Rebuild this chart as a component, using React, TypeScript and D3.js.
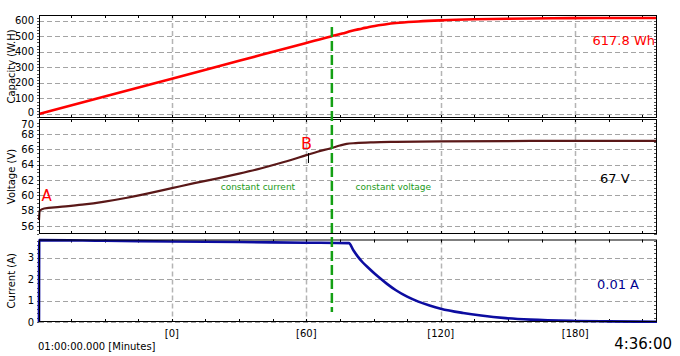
import React from "react";
import * as d3 from "d3";

// ---- data (minutes from start marker, values) ----
const capTime = [-59.3, -30, 0, 30, 60, 71, 76, 80, 85, 88, 95, 100, 110, 120, 135, 150, 170, 190, 216.5];
const capValue = [0, 112, 227, 342, 457, 499, 517, 534, 550, 560, 576, 585, 595, 602, 609, 613, 616, 617.3, 617.8];

const voltTime = [-59.3, -59.0, -57, -50, -40, -30, -20, -10, 0, 10, 20, 30, 40, 50, 60, 65, 71, 75, 78, 82, 90, 100, 120, 160, 216.5];
const voltValue = [56.8, 58.0, 58.3, 58.5, 58.8, 59.2, 59.7, 60.3, 60.95, 61.6, 62.2, 62.85, 63.55, 64.35, 65.25, 65.7, 66.15, 66.5, 66.72, 66.82, 66.92, 66.98, 67.05, 67.1, 67.1];

const curTime = [-59.3, -59.2, -30, 0, 30, 60, 79, 81, 83, 85, 88, 92, 96, 100, 105, 110, 115, 120, 130, 138, 149, 160, 180, 195, 216.5];
const curValue = [0, 3.82, 3.79, 3.76, 3.73, 3.7, 3.68, 3.35, 3.05, 2.8, 2.5, 2.12, 1.78, 1.48, 1.18, 0.95, 0.77, 0.62, 0.42, 0.3, 0.18, 0.11, 0.05, 0.03, 0.01];

const xTicks = [0, 60, 120, 180];
const xTickLabels = ["[0]", "[60]", "[120]", "[180]"];
const capTicks = [0, 100, 200, 300, 400, 500, 600];
const voltTicks = [56, 58, 60, 62, 64, 66, 68, 70];
const curTicks = [0, 1, 2, 3];

const switchTime = 71.4;
const markerTime = 60.6;

const FONT = "DejaVu Sans, Verdana, sans-serif";
const L = 39;
const R = 657;

export default function App() {
  const x = d3.scaleLinear().domain([-59.3, 216.5]).range([L, R]);

  const panels = [
    { key: "cap", top: 15, bottom: 118, y: d3.scaleLinear().domain([-25.7, 636.7]).range([118, 15]), ticks: capTicks, minor: 20, title: "Capacity (W.H)", t: capTime, v: capValue, color: "#ff0000", w: 2.6 },
    { key: "volt", top: 119, bottom: 234, y: d3.scaleLinear().domain([55, 70]).range([233.8, 118.7]), ticks: voltTicks, minor: 0.5, title: "Voltage (V)", t: voltTime, v: voltValue, color: "#5a1818", w: 2.2 },
    { key: "cur", top: 239.5, bottom: 322, y: d3.scaleLinear().domain([0, 3.85]).range([322, 239.5]), ticks: curTicks, minor: 0.2, title: "Current (A)", t: curTime, v: curValue, color: "#0c0ca0", w: 2.6 },
  ];

  const minorX = d3.range(-45, 216, 15);

  // label nudges where panels meet (top "0" and middle "70")
  const labelY = (key: string, t: number, yy: number) => {
    if (key === "cap" && t === 0) return yy - 2;
    if (key === "volt" && t === 70) return yy + 5.5;
    return yy;
  };

  return (
    <svg width={680} height={356} style={{ display: "block", position: "absolute", left: 0, top: 0, background: "#fff" }}>
      <rect x={0} y={0} width={680} height={356} fill="#ffffff" />
      {panels.map((p) => {
        const [d0, d1] = p.y.domain();
        const minorY = d3.range(Math.ceil(d0 / p.minor) * p.minor, d1, p.minor);
        const line = d3
          .line<number>()
          .x((_, i) => x(p.t[i]))
          .y((d) => p.y(d))
          .curve(d3.curveMonotoneX);
        const midY = (p.top + p.bottom) / 2;
        return (
          <g key={p.key}>
            {p.ticks.map((t) => (
              <line key={"hg" + t} x1={L} x2={R} y1={Math.round(p.y(t)) + 0.5} y2={Math.round(p.y(t)) + 0.5} stroke="#a4a4a4" strokeWidth={1.2} strokeDasharray="5,3" />
            ))}
            {xTicks.map((t) => (
              <line key={"vg" + t} x1={Math.round(x(t)) + 0.5} x2={Math.round(x(t)) + 0.5} y1={p.top} y2={p.bottom} stroke="#b4b4b4" strokeWidth={1.5} strokeDasharray="5,3" />
            ))}
            {minorX.map((t) => (
              <g key={"mx" + t}>
                <line x1={Math.round(x(t)) + 0.5} x2={Math.round(x(t)) + 0.5} y1={p.top} y2={p.top + 3} stroke="#000" strokeWidth={1} />
                <line x1={Math.round(x(t)) + 0.5} x2={Math.round(x(t)) + 0.5} y1={p.bottom - 3} y2={p.bottom} stroke="#000" strokeWidth={1} />
              </g>
            ))}
            {minorY.map((t, i) => (
              <g key={"my" + i}>
                <line x1={L - 2} x2={L} y1={Math.round(p.y(t)) + 0.5} y2={Math.round(p.y(t)) + 0.5} stroke="#555" strokeWidth={1} />
                <line x1={R - 3} x2={R} y1={Math.round(p.y(t)) + 0.5} y2={Math.round(p.y(t)) + 0.5} stroke="#555" strokeWidth={1} />
              </g>
            ))}
            {p.ticks.map((t) => (
              <text key={"tl" + t} x={34} y={labelY(p.key, t, p.y(t))} textAnchor="end" dominantBaseline="central" fontFamily={FONT} fontSize={10} fill="#000">
                {t}
              </text>
            ))}
            <text x={11} y={midY} transform={`rotate(-90 11 ${midY})`} textAnchor="middle" dominantBaseline="central" fontFamily={FONT} fontSize={10} fill="#000">
              {p.title}
            </text>
            <path d={line(p.v) || ""} fill="none" stroke={p.color} strokeWidth={p.w} strokeLinejoin="round" />
            <rect x={L + 0.5} y={p.top + 0.5} width={R - L - 1} height={p.bottom - p.top - 1} fill="none" stroke="#000" strokeWidth={1} />
          </g>
        );
      })}

      <line x1={x(switchTime)} x2={x(switchTime)} y1={27} y2={312} stroke="#14a014" strokeWidth={2.5} strokeDasharray="10,4" />

      <line x1={Math.round(x(markerTime)) + 0.5} x2={Math.round(x(markerTime)) + 0.5} y1={153} y2={163} stroke="#000" strokeWidth={1} />

      <text x={655} y={40} textAnchor="end" dominantBaseline="central" fontFamily={FONT} fontSize={13} fill="#ff0000">617.8 Wh</text>
      <text x={600} y={178} dominantBaseline="central" fontFamily={FONT} fontSize={13} fill="#000">67 V</text>
      <text x={597} y={284} dominantBaseline="central" fontFamily={FONT} fontSize={13} fill="#000090">0.01 A</text>
      <text x={41.5} y={200.7} fontFamily={FONT} fontSize={15} fill="#ff0000">A</text>
      <text x={301} y={149} fontFamily={FONT} fontSize={16} fill="#ff0000">B</text>
      <text x={220.7} y={186.5} dominantBaseline="central" fontFamily={FONT} fontSize={9} fill="#1a9a1a">constant current</text>
      <text x={355.5} y={186.5} dominantBaseline="central" fontFamily={FONT} fontSize={9} fill="#1a9a1a">constant voltage</text>

      {xTicks.map((t, i) => (
        <text key={"xl" + t} x={x(t)} y={333} textAnchor="middle" dominantBaseline="central" fontFamily={FONT} fontSize={10} fill="#000">
          {xTickLabels[i]}
        </text>
      ))}
      <text x={38} y={346} dominantBaseline="central" fontFamily={FONT} fontSize={10} fill="#000">01:00:00.000 [Minutes]</text>
      <text x={672} y={344} textAnchor="end" dominantBaseline="central" fontFamily={FONT} fontSize={15} fill="#000">4:36:00</text>
    </svg>
  );
}
